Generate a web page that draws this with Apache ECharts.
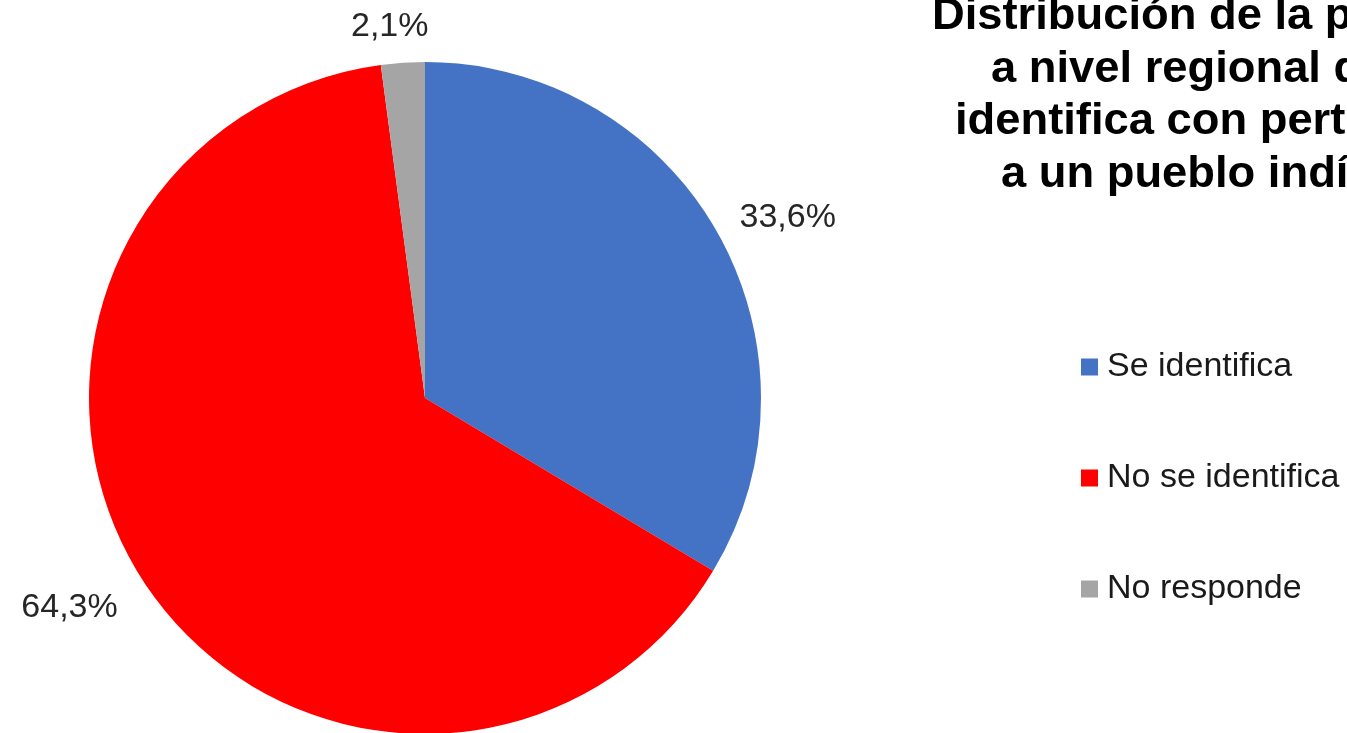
<!DOCTYPE html>
<html>
<head>
<meta charset="utf-8">
<script src="https://cdn.jsdelivr.net/npm/echarts@6/dist/echarts.min.js"></script>
<style>
html,body{margin:0;padding:0;background:#fff;}
#chart{width:1347px;height:733px;}
</style>
</head>
<body>
<div id="chart"></div>
<script>
var categories = ['Se identifica', 'No se identifica', 'No responde'];
var values = [33.6, 64.3, 2.1];
var colors = ['#4472C4', '#FF0000', '#A5A5A5'];
var titleLines = ['Distribución de la población', 'a nivel regional que se', 'identifica con pertenencia', 'a un pueblo indígena'];

var FONT = '"Liberation Sans", Arial, sans-serif';
var titleLeft = [932, 991, 955, 1001];
var titleTop = [-5, 48, 100, 153];
var labelLine = [
  {length: 30, length2: -4},
  {length: 46, length2: -12},
  {length: 36, length2: -28}
];

var chart = echarts.init(document.getElementById('chart'), null, {renderer: 'canvas'});
var option = {
  backgroundColor: '#ffffff',
  animation: false,
  graphic: titleLines.map(function (t, i) {
    return {
      type: 'text',
      x: titleLeft[i],
      y: titleTop[i],
      scaleX: 1.03,
      scaleY: 1,
      silent: true,
      style: {
        text: t,
        fontFamily: FONT,
        fontWeight: 'bold',
        fontSize: 44,
        fill: '#000000',
        align: 'left',
        verticalAlign: 'top'
      }
    };
  }),
  legend: {
    orient: 'vertical',
    left: 1081,
    top: 350,
    padding: 0,
    itemWidth: 17,
    itemHeight: 17,
    itemGap: 77,
    icon: 'rect',
    data: categories,
    textStyle: {fontFamily: FONT, fontSize: 34, color: '#1a1a1a', padding: [0, 0, 0, 4]}
  },
  series: [{
    type: 'pie',
    center: [425, 398],
    radius: 336,
    startAngle: 90,
    clockwise: true,
    avoidLabelOverlap: false,
    data: categories.map(function (c, i) {
      return {
        name: c,
        value: values[i],
        itemStyle: {color: colors[i]},
        labelLine: {show: false, length: labelLine[i].length, length2: labelLine[i].length2}
      };
    }),
    label: {
      show: true,
      position: 'outside',
      distanceToLabelLine: 0,
      fontFamily: FONT,
      fontSize: 34,
      color: '#262626',
      formatter: function (p) { return p.value.toFixed(1).replace('.', ',') + '%'; }
    },
    labelLine: {show: false},
    emphasis: {disabled: true}
  }]
};
chart.setOption(option);
</script>
</body>
</html>
